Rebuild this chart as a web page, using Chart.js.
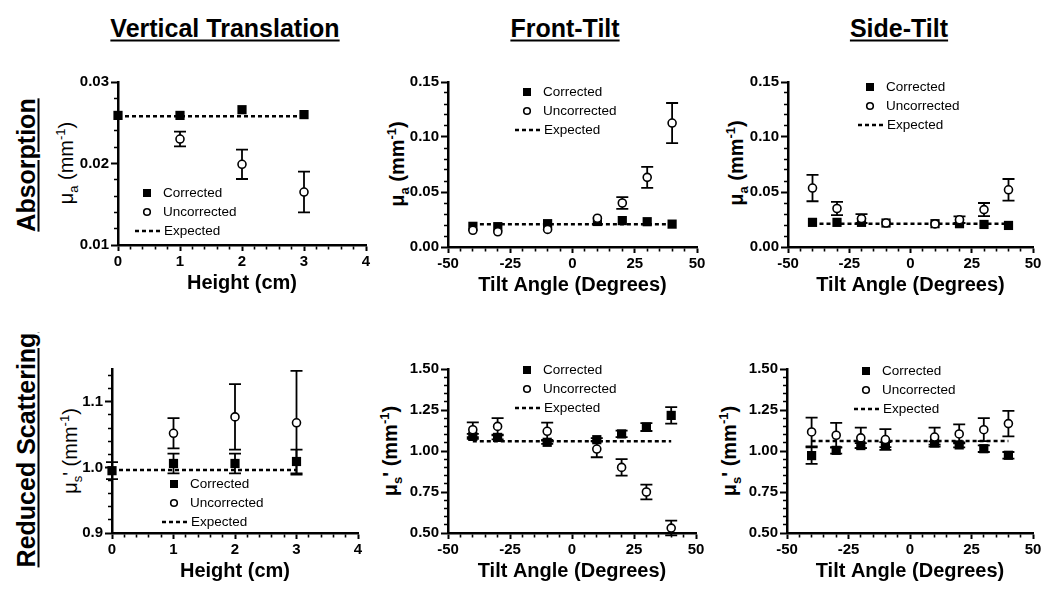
<!DOCTYPE html>
<html lang="en">
<head>
<meta charset="UTF-8">
<title>Corrected vs. uncorrected optical properties</title>
<script src="https://cdn.jsdelivr.net/npm/chart.js"></script>
<style>
  body { margin: 0; background: #fff; font-family: "Liberation Sans", Arial, sans-serif; color: #000; }
  #page { position: relative; width: 1050px; height: 600px; overflow: hidden; }
  .plot { position: absolute; }
  .head { position: absolute; font-size: 25px; font-weight: bold; text-decoration: underline; text-underline-offset: 3px; white-space: nowrap; transform: translate(-50%, -50%); }
  .row { position: absolute; font-size: 25px; font-weight: bold; text-decoration: underline; text-underline-offset: 3px; white-space: nowrap; transform: translate(-50%, -50%) rotate(-90deg); }
  .ytitle { position: absolute; font-size: 20px; line-height: 1; white-space: nowrap; transform: translate(-50%, -50%) rotate(-90deg); }
  .ytitle.b { font-weight: bold; }
  sub, sup { font-size: 0.65em; line-height: 0; }
</style>
</head>
<body>
<div id="page">
  <!-- column / row headers -->
  <div class="head" style="left:225px; top:28px">Vertical Translation</div>
  <div class="head" style="left:565px; top:28px">Front-Tilt</div>
  <div class="head" style="left:899px; top:28px">Side-Tilt</div>
  <div class="row" style="left:26px; top:165px">Absorption</div>
  <div class="row" style="left:26px; top:450px">Reduced Scattering</div>

  <!-- y axis titles -->
  <div class="ytitle" style="left:66px; top:163px">μ<sub>a</sub> (mm<sup>-1</sup>)</div>
  <div class="ytitle b" style="left:397px; top:164px">μ<sub>a</sub> (mm<sup>-1</sup>)</div>
  <div class="ytitle b" style="left:736px; top:163px">μ<sub>a</sub> (mm<sup>-1</sup>)</div>
  <div class="ytitle" style="left:70px; top:451px">μ<sub>s</sub>' (mm<sup>-1</sup>)</div>
  <div class="ytitle b" style="left:390px; top:451px">μ<sub>s</sub>' (mm<sup>-1</sup>)</div>
  <div class="ytitle b" style="left:729px; top:451px">μ<sub>s</sub>' (mm<sup>-1</sup>)</div>
</div>

<script>
// x positions
const heights = [0, 1, 2, 3];
const heightsUnc = [1, 2, 3];
const ftAngles = [-40, -30, -10, 10, 20, 30, 40];
const stAngles = [-40, -30, -20, -10, 10, 20, 30, 40];

// tick labels
const heightTicks = [0, 1, 2, 3, 4];
const angleTicks = [-50, -25, 0, 25, 50];
const absVtTicks = [0.01, 0.02, 0.03];
const absTiltTicks = [0, 0.05, 0.10, 0.15];
const scatVtTicks = [0.9, 1.0, 1.1];
const scatTiltTicks = [0.5, 0.75, 1.0, 1.25, 1.5];

// minor tick spacing per axis
const heightMinor = 0.2, angleMinor = 5;
const absVtMinor = 0.002, absTiltMinor = 0.01, scatVtMinor = 0.02, scatTiltMinor = 0.05;

// absorption - vertical translation
const vtAbsCorr = [0.0259, 0.0259, 0.0266, 0.0260];
const vtAbsCorrErr = [0, 0, 0, 0];
const vtAbsUnc = [0.0230, 0.0199, 0.0165];
const vtAbsUncErr = [0.0009, 0.0018, 0.0025];
const vtAbsExp = 0.0258;

// absorption - front tilt
const ftAbsCorr = [0.0188, 0.0185, 0.0212, 0.0232, 0.0240, 0.0230, 0.0208];
const ftAbsCorrErr = [0, 0, 0, 0, 0, 0, 0];
const ftAbsUnc = [0.0152, 0.0138, 0.0160, 0.0262, 0.0400, 0.0633, 0.1127];
const ftAbsUncErr = [0, 0, 0, 0, 0.0053, 0.0095, 0.0182];
const ftAbsExp = 0.0206;

// absorption - side tilt
const stAbsCorr = [0.0224, 0.0224, 0.0224, 0.0218, 0.0212, 0.0212, 0.0205, 0.0196];
const stAbsCorrErr = [0, 0, 0, 0, 0, 0, 0, 0];
const stAbsUnc = [0.0536, 0.0350, 0.0258, 0.0218, 0.0210, 0.0248, 0.0340, 0.0520];
const stAbsUncErr = [0.0120, 0.0060, 0.0040, 0, 0, 0.0030, 0.0060, 0.0098];
const stAbsExp = 0.0212;

// reduced scattering - vertical translation
const vtScatCorr = [0.995, 1.006, 1.006, 1.009];
const vtScatCorrErr = [0.013, 0.015, 0.015, 0.018];
const vtScatUnc = [1.052, 1.077, 1.068];
const vtScatUncErr = [0.023, 0.050, 0.079];
const vtScatExp = 0.996;

// reduced scattering - front tilt
const ftScatCorr = [1.089, 1.083, 1.053, 1.069, 1.104, 1.146, 1.217];
const ftScatCorrErr = [0.015, 0.012, 0.010, 0.010, 0.020, 0.024, 0.050];
const ftScatUnc = [1.130, 1.150, 1.120, 1.012, 0.900, 0.750, 0.530];
const ftScatUncErr = [0.045, 0.050, 0.053, 0.050, 0.050, 0.045, 0.045];
const ftScatExp = 1.059;

// reduced scattering - side tilt
const stScatCorr = [0.972, 1.004, 1.033, 1.039, 1.049, 1.037, 1.014, 0.974];
const stScatCorrErr = [0.050, 0.020, 0.015, 0.015, 0.010, 0.015, 0.020, 0.020];
const stScatUnc = [1.116, 1.096, 1.080, 1.070, 1.085, 1.104, 1.130, 1.167];
const stScatUncErr = [0.088, 0.075, 0.063, 0.063, 0.058, 0.058, 0.070, 0.078];
const stScatExp = 1.061;

// space around each plot area inside its canvas
const PAD_L = 70, PAD_T = 20, PAD_R = 20, PAD_B = 54;
const FONT = '"Liberation Sans", Arial, sans-serif';

Chart.defaults.font.family = FONT;
Chart.defaults.color = '#000';

// labelled ticks plus unlabelled minor ones in between
function withMinor(major, min, max, step) {
  const out = [];
  const n = Math.round((max - min) / step);
  for (let k = 0; k <= n; k++) {
    const v = +(min + k * step).toFixed(6);
    out.push({ value: v, major: major.some(m => Math.abs(m - v) < step / 10) });
  }
  return out;
}

// error bars and the little in-plot legend
const axisExtras = {
  id: 'axisExtras',
  beforeDatasetsDraw(chart) {
    const ctx = chart.ctx, ys = chart.scales.y;
    ctx.save();
    ctx.strokeStyle = '#000';
    ctx.lineWidth = 1.8;
    chart.data.datasets.forEach((ds, i) => {
      if (!ds.errors) return;
      chart.getDatasetMeta(i).data.forEach((pt, j) => {
        const e = ds.errors[j];
        if (!e) return;
        const v = ds.data[j].y;
        const y1 = ys.getPixelForValue(v + e), y2 = ys.getPixelForValue(v - e);
        ctx.beginPath();
        ctx.moveTo(pt.x, y1); ctx.lineTo(pt.x, y2);
        ctx.moveTo(pt.x - 6, y1); ctx.lineTo(pt.x + 6, y1);
        ctx.moveTo(pt.x - 6, y2); ctx.lineTo(pt.x + 6, y2);
        ctx.stroke();
      });
    });
    ctx.restore();
  },
  afterDraw(chart, args, opts) {
    const ctx = chart.ctx;
    const ca = chart.chartArea;
    const mx = ca.left + opts.legend[0], my = ca.top + opts.legend[1], gap = 19;
    const labels = chart.data.datasets.map(d => d.label);
    ctx.save();
    ctx.strokeStyle = '#000';
    ctx.lineWidth = 1.6;
    ctx.font = '13.5px ' + FONT;
    ctx.textBaseline = 'middle';
    ctx.fillStyle = '#000';
    ctx.fillRect(mx - 4, my - 4, 8, 8);
    ctx.fillText(labels[0], mx + 16, my);
    ctx.beginPath();
    ctx.arc(mx, my + gap, 3.3, 0, 2 * Math.PI);
    ctx.fillStyle = '#fff';
    ctx.fill();
    ctx.stroke();
    ctx.fillStyle = '#000';
    ctx.fillText(labels[1], mx + 16, my + gap);
    ctx.lineWidth = 2.5;
    ctx.setLineDash([4, 3]);
    ctx.beginPath();
    ctx.moveTo(mx - 12, my + 2 * gap); ctx.lineTo(mx + 15, my + 2 * gap);
    ctx.stroke();
    ctx.setLineDash([]);
    ctx.fillText(labels[2], mx + 17, my + 2 * gap);
    ctx.restore();
  }
};

const pts = (xs, ys) => xs.map((x, i) => ({ x: x, y: ys[i] }));
const isMajor = c => c.tick && c.tick.major;

function makePanel(p) {
  const [l, t, r, b] = p.area;
  const cv = document.createElement('canvas');
  cv.className = 'plot';
  cv.width = r - l + PAD_L + PAD_R;
  cv.height = b - t + PAD_T + PAD_B;
  cv.style.left = (l - PAD_L) + 'px';
  cv.style.top = (t - PAD_T) + 'px';
  document.getElementById('page').appendChild(cv);

  const tickFont = { size: 15, weight: 'bold' };
  // x ticks are stroked from the axis outward, y ticks from the outer end in,
  // so the short minor marks use different dash patterns
  const xGrid = { drawOnChartArea: false, tickLength: 6, color: '#000',
    tickWidth: c => isMajor(c) ? 2 : 1.6,
    tickBorderDash: c => isMajor(c) ? [] : [3, 10] };
  const yGrid = { drawOnChartArea: false, tickLength: 7, color: '#000',
    tickWidth: c => isMajor(c) ? 2 : 1.6,
    tickBorderDash: c => isMajor(c) ? [] : [0, 3, 4, 0] };
  const borderOpts = { color: '#000', width: 2.5 };

  new Chart(cv, {
    type: 'scatter',
    data: {
      datasets: [
        { label: 'Corrected', data: pts(p.xc, p.corr), errors: p.corrErr, pointStyle: 'rect',
          pointRadius: 6.5, backgroundColor: '#000', borderColor: '#000', borderWidth: 0, order: 1, clip: false },
        { label: 'Uncorrected', data: pts(p.xu, p.unc), errors: p.uncErr, pointStyle: 'circle',
          pointRadius: 4, backgroundColor: '#fff', borderColor: '#000', borderWidth: 1.6, order: 0, clip: false },
        { label: 'Expected', data: pts(p.expX, [p.exp, p.exp]), showLine: true, pointRadius: 0,
          borderColor: '#000', borderWidth: 2.5, borderDash: [4, 3], order: 2, clip: false }
      ]
    },
    options: {
      responsive: false,
      animation: false,
      events: [],
      layout: { padding: { left: 0, top: PAD_T, right: PAD_R, bottom: 0 } },
      plugins: {
        legend: { display: false },
        tooltip: { enabled: false },
        axisExtras: { legend: p.legend }
      },
      scales: {
        x: {
          type: 'linear', min: p.xRange[0], max: p.xRange[1],
          afterBuildTicks: s => { s.ticks = withMinor(p.xTicks, p.xRange[0], p.xRange[1], p.xMinor); },
          afterFit: s => { s.height = PAD_B; },
          ticks: { font: tickFont, padding: 2, maxRotation: 0, minRotation: 0, autoSkip: false,
                   callback: (v, i, ticks) => ticks[i].major ? String(v) : '' },
          grid: xGrid,
          border: borderOpts,
          title: { display: true, text: p.xTitle, font: { size: 20, weight: 'bold' }, padding: { top: 0, bottom: 4 } }
        },
        y: {
          type: 'linear', min: p.yRange[0], max: p.yRange[1],
          afterBuildTicks: s => { s.ticks = withMinor(p.yTicks, p.yRange[0], p.yRange[1], p.yMinor); },
          afterFit: s => { s.width = PAD_L; },
          ticks: { font: tickFont, padding: 2, autoSkip: false,
                   callback: (v, i, ticks) => ticks[i].major ? v.toFixed(p.yDec) : '' },
          grid: yGrid,
          border: borderOpts
        }
      }
    },
    plugins: [axisExtras]
  });
}

const panels = [
  { area: [118, 82, 366, 245], xRange: [0, 4], xTicks: heightTicks, xMinor: heightMinor, xTitle: 'Height (cm)',
    yRange: [0.01, 0.03], yTicks: absVtTicks, yMinor: absVtMinor, yDec: 2,
    xc: heights, corr: vtAbsCorr, corrErr: vtAbsCorrErr, xu: heightsUnc, unc: vtAbsUnc, uncErr: vtAbsUncErr,
    expX: [0, 3], exp: vtAbsExp, legend: [29, 111] },
  { area: [448, 82, 697, 247], xRange: [-50, 50], xTicks: angleTicks, xMinor: angleMinor, xTitle: 'Tilt Angle (Degrees)',
    yRange: [0, 0.15], yTicks: absTiltTicks, yMinor: absTiltMinor, yDec: 2,
    xc: ftAngles, corr: ftAbsCorr, corrErr: ftAbsCorrErr, xu: ftAngles, unc: ftAbsUnc, uncErr: ftAbsUncErr,
    expX: [-40, 40], exp: ftAbsExp, legend: [79, 10] },
  { area: [788, 82, 1033, 247], xRange: [-50, 50], xTicks: angleTicks, xMinor: angleMinor, xTitle: 'Tilt Angle (Degrees)',
    yRange: [0, 0.15], yTicks: absTiltTicks, yMinor: absTiltMinor, yDec: 2,
    xc: stAngles, corr: stAbsCorr, corrErr: stAbsCorrErr, xu: stAngles, unc: stAbsUnc, uncErr: stAbsUncErr,
    expX: [-40, 40], exp: stAbsExp, legend: [82, 5] },
  { area: [112, 369, 358, 533], xRange: [0, 4], xTicks: heightTicks, xMinor: heightMinor, xTitle: 'Height (cm)',
    yRange: [0.9, 1.15], yTicks: scatVtTicks, yMinor: scatVtMinor, yDec: 1,
    xc: heights, corr: vtScatCorr, corrErr: vtScatCorrErr, xu: heightsUnc, unc: vtScatUnc, uncErr: vtScatUncErr,
    expX: [0, 3], exp: vtScatExp, legend: [62, 115] },
  { area: [448, 369, 696, 533], xRange: [-50, 50], xTicks: angleTicks, xMinor: angleMinor, xTitle: 'Tilt Angle (Degrees)',
    yRange: [0.5, 1.5], yTicks: scatTiltTicks, yMinor: scatTiltMinor, yDec: 2,
    xc: ftAngles, corr: ftScatCorr, corrErr: ftScatCorrErr, xu: ftAngles, unc: ftScatUnc, uncErr: ftScatUncErr,
    expX: [-40, 40], exp: ftScatExp, legend: [79, 1] },
  { area: [787, 369, 1033, 533], xRange: [-50, 50], xTicks: angleTicks, xMinor: angleMinor, xTitle: 'Tilt Angle (Degrees)',
    yRange: [0.5, 1.5], yTicks: scatTiltTicks, yMinor: scatTiltMinor, yDec: 2,
    xc: stAngles, corr: stScatCorr, corrErr: stScatCorrErr, xu: stAngles, unc: stScatUnc, uncErr: stScatUncErr,
    expX: [-40, 40], exp: stScatExp, legend: [79, 2] }
];

panels.forEach(makePanel);
</script>
</body>
</html>
